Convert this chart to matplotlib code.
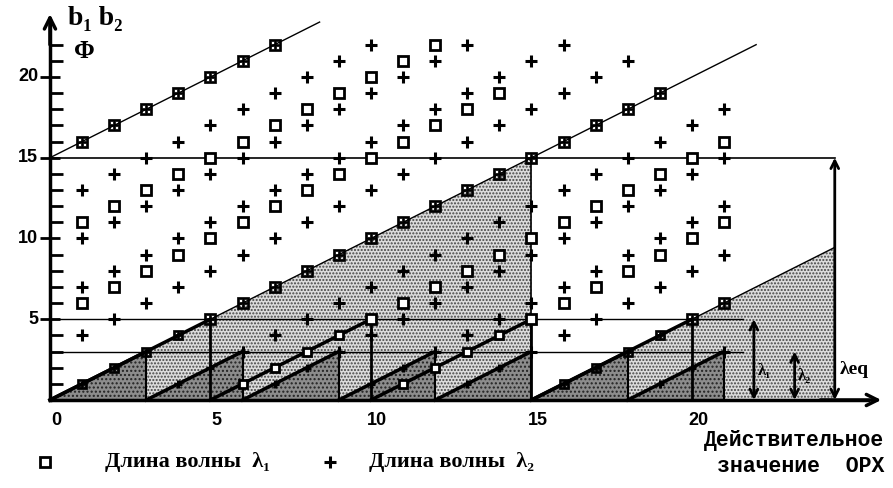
import matplotlib.pyplot as plt
from matplotlib.path import Path

# two wavelengths and the equivalent one
LAM1 = 5
LAM2 = 3
LAM_EQ = 15

# true values (x) and the phase readings found for each of them
x_true = list(range(1, 22))
sq_y = [
    [1, 6, 11, 16], [2, 7, 12, 17], [3, 8, 13, 18], [4, 9, 14, 19],
    [5, 10, 15, 20], [1, 6, 11, 16, 21], [2, 7, 12, 17, 22], [3, 8, 13, 18],
    [4, 9, 14, 19], [5, 10, 15, 20], [1, 6, 11, 16, 21], [2, 7, 12, 17, 22],
    [3, 8, 13, 18], [4, 9, 14, 19], [5, 10, 15], [1, 6, 11, 16],
    [2, 7, 12, 17], [3, 8, 13, 18], [4, 9, 14, 19], [5, 10, 15],
    [6, 11, 16],
]
pl_y = [
    [1, 4, 7, 10, 13, 16], [2, 5, 8, 11, 14, 17], [3, 6, 9, 12, 15, 18],
    [1, 4, 7, 10, 13, 16, 19], [2, 5, 8, 11, 14, 17, 20],
    [3, 6, 9, 12, 15, 18, 21], [1, 4, 7, 10, 13, 16, 19, 22],
    [2, 5, 8, 11, 14, 17, 20], [3, 6, 9, 12, 15, 18, 21],
    [1, 4, 7, 10, 13, 16, 19, 22], [2, 5, 8, 11, 14, 17, 20],
    [3, 6, 9, 12, 15, 18, 21], [1, 4, 7, 10, 13, 16, 19, 22],
    [2, 5, 8, 11, 14, 17, 20], [3, 6, 9, 12, 15, 18, 21],
    [1, 4, 7, 10, 13, 16, 19, 22], [2, 5, 8, 11, 14, 17, 20],
    [3, 6, 9, 12, 15, 18, 21], [1, 4, 7, 10, 13, 16, 19],
    [2, 5, 8, 11, 14, 17], [3, 6, 9, 12, 15, 18],
]
ytick_vals = [5, 10, 15, 20]
xtick_vals = [0, 5, 10, 15, 20]

x_end = 24.45   # right edge of the shaded wedge / lambda_eq arrow
lam_x1 = 21.93
lam_x2 = 23.2

serif = ['Liberation Serif', 'DejaVu Serif']

fig = plt.figure(figsize=(8.93, 4.88), dpi=100)
ax = fig.add_axes([0.02, 0.1307, 0.9705, 0.8605])
ax.set_xlim(-1, 26)
ax.set_ylim(-1.5, 24.5)
for s in ['top', 'right']:
    ax.spines[s].set_visible(False)
ax.spines['left'].set_position(('data', 0))
ax.spines['bottom'].set_position(('data', 0))
ax.spines['left'].set_bounds(0, 23.5)
ax.spines['bottom'].set_bounds(0, 25.5)
ax.spines['left'].set_linewidth(2.5)
ax.spines['bottom'].set_linewidth(2.5)
ax.set_yticks(ytick_vals)
ax.set_yticks([v for v in range(1, 23) if v not in ytick_vals], minor=True)
ax.set_yticklabels([])
ax.tick_params(axis='y', which='major', direction='inout', length=15, width=2)
ax.tick_params(axis='y', which='minor', direction='in', length=9.5, width=2)
ax.set_xticks([])

# stippled areas
ax.fill([0, LAM_EQ, LAM_EQ], [0, LAM_EQ, 0], facecolor='#dcdcdc',
        edgecolor='#444444', hatch='.....', linewidth=0, zorder=1)
ax.fill([LAM_EQ, x_end, x_end], [0, x_end - LAM_EQ, 0], facecolor='#dcdcdc',
        edgecolor='#444444', hatch='.....', linewidth=0, zorder=1)
for k in range(7):
    x0 = k * LAM2
    ax.fill([x0, x0 + LAM2, x0 + LAM2], [0, LAM2, 0], facecolor='#8c8c8c',
            edgecolor='#222222', hatch='....', linewidth=0, zorder=1.5)

# diagonals
ax.plot([0, 8.4], [LAM_EQ, LAM_EQ + 8.4], color='black', lw=1, zorder=2)
ax.plot([0, 22], [0, 22], color='black', lw=1, zorder=2)
ax.plot([LAM_EQ, x_end], [0, x_end - LAM_EQ], color='black', lw=1, zorder=2)

# horizontal levels
ax.plot([0, x_end], [LAM_EQ, LAM_EQ], color='black', lw=1.2, zorder=2)
ax.plot([0, 21.6], [LAM1, LAM1], color='black', lw=1, zorder=2)
ax.plot([0, 21.6], [LAM2, LAM2], color='black', lw=1, zorder=2)
ax.plot([LAM_EQ, LAM_EQ], [0, LAM_EQ], color='black', lw=1.2, zorder=2)

# wrapped phases (saw teeth)
for k in range(4):
    x0 = k * LAM1
    ax.plot([x0, x0 + LAM1], [0, LAM1], color='black', lw=2.5, zorder=3)
    ax.plot([x0 + LAM1, x0 + LAM1], [0, LAM1], color='black', lw=2, zorder=3)
for k in range(7):
    x0 = k * LAM2
    ax.plot([x0, x0 + LAM2], [0, LAM2], color='black', lw=2.5, zorder=3)
    ax.plot([x0 + LAM2, x0 + LAM2], [0, LAM2], color='black', lw=1.5, zorder=3)

# markers
box = Path.make_compound_path(
    Path([(-1, -1), (1, -1), (1, 1), (-1, 1), (-1, -1)], closed=True),
    *[Path([(cx - 0.2, cy - 0.2), (cx - 0.2, cy + 0.2), (cx + 0.2, cy + 0.2),
            (cx + 0.2, cy - 0.2), (cx - 0.2, cy - 0.2)], closed=True)
      for cx in (-0.42, 0.42) for cy in (-0.42, 0.42)])

for x, sq, pl in zip(x_true, sq_y, pl_y):
    for y in sq:
        if y in pl:
            ax.plot(x, y, marker=box, ms=9 if y >= LAM1 else 7, color='black',
                    mec='black', mew=0.5, zorder=5)
        else:
            ax.plot(x, y, marker='s', ms=7.5 if y >= LAM1 else 5.5, mfc='white',
                    mec='black', mew=2, zorder=5)
    for y in pl:
        if y not in sq:
            ax.plot(x, y, marker='+', ms=9 if y >= LAM2 else 6, color='black',
                    mew=2.2, zorder=5)

# arrows
arr = dict(arrowstyle='<->', lw=2, color='black', mutation_scale=14,
           shrinkA=0, shrinkB=0)
ax.annotate('', xy=(x_end, LAM_EQ), xytext=(x_end, 0), arrowprops=arr, zorder=4)
ax.annotate('', xy=(lam_x1, LAM1), xytext=(lam_x1, 0), arrowprops=arr, zorder=4)
ax.annotate('', xy=(lam_x2, LAM2), xytext=(lam_x2, 0), arrowprops=arr, zorder=4)
axarr = dict(arrowstyle='->', lw=2.5, color='black', mutation_scale=20,
             shrinkA=0, shrinkB=0)
ax.annotate('', xy=(0, 23.9), xytext=(0, 22), arrowprops=axarr)
ax.annotate('', xy=(25.9, 0), xytext=(24, 0), arrowprops=axarr)

ax.text(lam_x1 + 0.12, 1.8, 'λ₁', fontsize=12, fontweight='bold', family=serif,
        va='center', zorder=6)
ax.text(lam_x2 + 0.1, 1.5, 'λ₂', fontsize=12, fontweight='bold', family=serif,
        va='center', zorder=6)
ax.text(24.62, 1.9, 'λeq', fontsize=14, fontweight='bold', family=serif,
        va='center', zorder=6)

# tick labels
for v in ytick_vals:
    ax.text(-0.37, v, str(v), ha='right', va='center', fontsize=13,
            fontweight='bold', family='Liberation Sans')
for v in xtick_vals:
    ax.text(v + 0.2, -1.3, str(v), ha='center', va='center', fontsize=13,
            fontweight='bold', family='Liberation Sans')

# axis titles
ax.text(0.55, 23.6, 'b₁ b₂', fontsize=20, fontweight='bold', family=serif,
        va='center', clip_on=False)
ax.text(0.75, 21.6, 'Φ', fontsize=18, fontweight='bold', family=serif,
        va='center')
ax.text(26.0, -2.5, 'Действительное', fontsize=15.5, fontweight='bold',
        family='Liberation Mono', ha='right', va='center', clip_on=False)
ax.text(26.0, -4.1, 'значение  ОРХ', fontsize=15.5, fontweight='bold',
        family='Liberation Mono', ha='right', va='center', clip_on=False)

# legend row
ax.plot(-0.16, -3.85, marker='s', ms=7, mfc='white', mec='black', mew=2,
        clip_on=False)
ax.text(1.7, -3.85, 'Длина волны  λ₁', fontsize=16, fontweight='bold',
        family=serif, va='center', clip_on=False)
ax.plot(8.72, -3.85, marker='+', ms=9, color='black', mew=2.2, clip_on=False)
ax.text(9.95, -3.85, 'Длина волны  λ₂', fontsize=16, fontweight='bold',
        family=serif, va='center', clip_on=False)

fig.savefig('out.png', dpi=100)
